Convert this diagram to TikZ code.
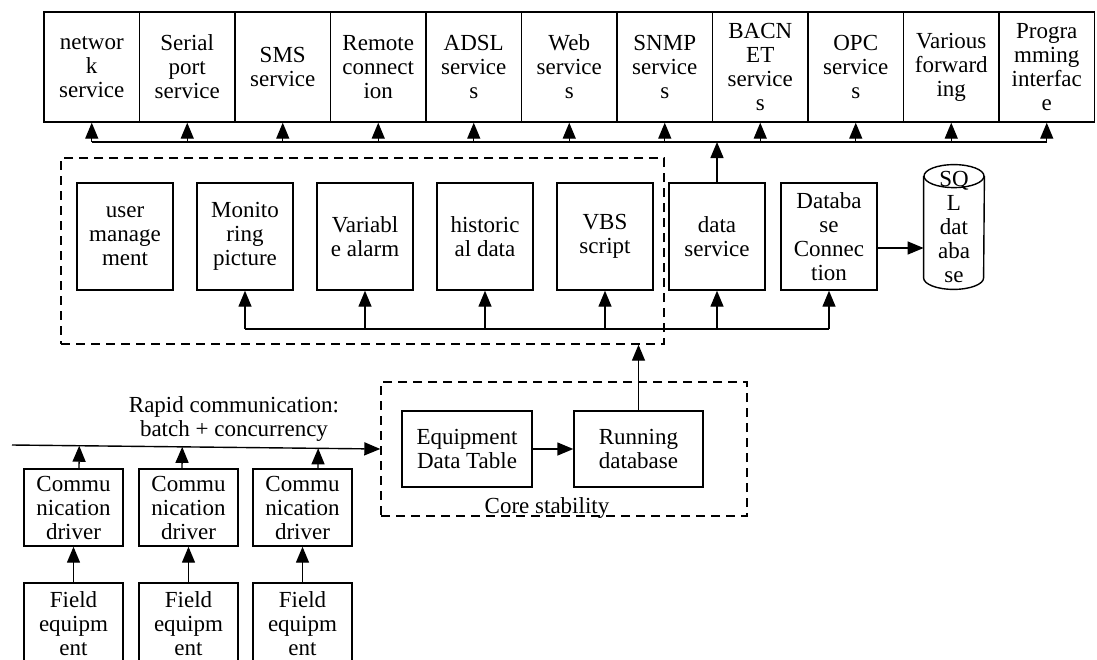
\documentclass[tikz,border=0pt]{standalone}
\usepackage{fontspec}
\setmainfont{Liberation Serif}
\usepackage{tikz}
\usetikzlibrary{shapes,arrows.meta,positioning,calc}

\tikzset{
    box/.style={draw, line width=0.7pt, align=center, inner sep=0pt,
        font=\fontsize{11.5}{12}\selectfont},
    topbox/.style={box, minimum width=47.75pt, minimum height=55pt},
    midbox/.style={box, minimum width=48pt, minimum height=53.5pt},
    drvbox/.style={box, minimum width=49.5pt, minimum height=38.5pt},
    dbbox/.style={box, minimum width=65pt, minimum height=38pt},
    dashbox/.style={draw, line width=0.7pt, dash pattern=on 4.5pt off 3pt},
    arr/.style={line width=0.7pt, -{Triangle[length=8pt,width=6.5pt]}},
    bus/.style={line width=0.7pt},
    lbl/.style={align=center, inner sep=0pt, font=\fontsize{11.5}{12}\selectfont}
}

\begin{document}
\begin{tikzpicture}[x=1pt, y=-1pt]
    \useasboundingbox (0,0) rectangle (548.5,329.5);

    % services on top
    \foreach \txt [count=\i] in {{networ\\k\\service},{Serial\\port\\service},{SMS\\service},
        {Remote\\connect\\ion},{ADSL\\service\\s},{Web\\service\\s},{SNMP\\service\\s},
        {BACN\\ET\\service\\s},{OPC\\service\\s},{Various\\forward\\ing},{Progra\\mming\\interfac\\e}}
        \node[topbox] (t\i) at ({22+47.75*(\i-0.5)},33.5) {\txt};

    \coordinate (bus) at (0,71);
    \draw[bus] (t1.south |- bus) -- (t11.south |- bus);
    \foreach \i in {1,...,11}
        \draw[arr] (t\i.south |- bus) -- (t\i.south);

    % application layer
    \node[dashbox, minimum width=301.5pt, minimum height=93pt] (app) at (181.25,125.5) {};

    \node[midbox] (user) at (62.5,118.25) {user\\manage\\ment};
    \node[midbox] (monit) at (122.5,118.25) {Monito\\ring\\picture};
    \node[midbox] (alarm) at (182.5,118.25) {Variabl\\e alarm};
    \node[midbox] (hist) at (242.5,118.25) {historic\\al data};
    \node[midbox] (vbs) at (302.5,118.25) {VBS\\script};
    \node[midbox] (datasrv) at (358.5,118.25) {data\\service};
    \node[midbox] (dbconn) at (414.5,118.25) {Databa\\se\\Connec\\tion};

    % database cylinder
    \node[minimum width=30pt, minimum height=62pt, inner sep=0pt] (sql) at (477,113.5) {};
    \draw[line width=0.7pt] ([yshift=-5.75pt]sql.north west) -- ([yshift=5.75pt]sql.south west)
        arc[start angle=180, end angle=360, x radius=15pt, y radius=5.75pt]
        -- ([yshift=-5.75pt]sql.north east);
    \draw[line width=0.7pt] ([yshift=-5.75pt]sql.north) ellipse[x radius=15pt, y radius=5.75pt];
    \node[lbl] (sqltxt) at (477,113.5) {SQ\\L\\dat\\aba\\se};

    \coordinate (lbus) at (0,164.5);
    \draw[bus] (monit.south |- lbus) -- (dbconn.south |- lbus);
    \foreach \n in {monit,alarm,hist,vbs,datasrv,dbconn}
        \draw[arr] (\n.south |- lbus) -- (\n.south);

    \draw[arr] (datasrv.north) -- (datasrv.north |- bus);
    \draw[arr] ([yshift=-5.75pt]dbconn.east) -- ([yshift=-5.75pt]dbconn.east -| sql.west);

    % core
    \node[dashbox, minimum width=183pt, minimum height=67pt] (core) at (282,224.5) {};
    \node[dbbox] (edt) at (233.5,224.5) {Equipment\\Data Table};
    \node[dbbox, minimum width=64.5pt] (rd) at (319.25,224.5) {Running\\database};
    \node[lbl, anchor=base] (corelbl) at (273.5,256.5) {Core stability};

    \draw[arr] (edt.east) -- (rd.west);
    \draw[arr] (rd.north) -- (rd.north |- app.south);

    % field side
    \coordinate (rs) at (6,222.5);
    \draw[arr] (rs) -- (core.west);
    \node[lbl] (rapid) at (117,209.25) {Rapid communication:\\batch + concurrency};

    \foreach \i/\x/\d in {1/36.75/2.75, 2/94.25/-3.25, 3/151.25/7.75} {
        \node[drvbox] (drv\i) at (\x,253.75) {Commu\\nication\\driver};
        \node[drvbox, minimum height=41pt] (fld\i) at (\x,312) {Field\\equipm\\ent};
        \draw[arr] (fld\i) -- (drv\i);
        \draw[arr] ([xshift=\d pt]drv\i.north) -- ($(rs)!([xshift=\d pt]drv\i.north)!(core.west)$);
    }
\end{tikzpicture}
\end{document}
